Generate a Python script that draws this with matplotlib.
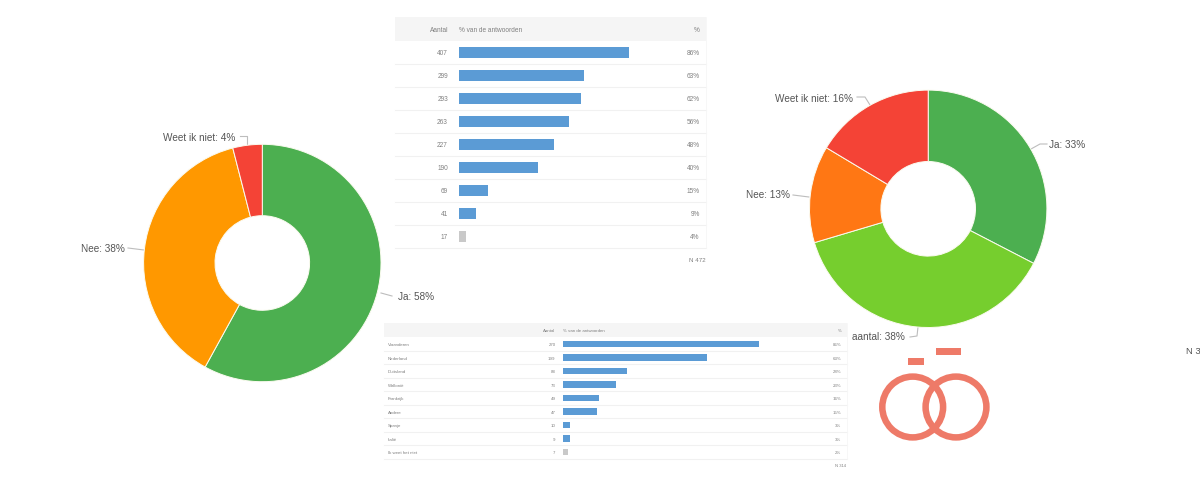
import matplotlib
matplotlib.use("Agg")
import matplotlib.pyplot as plt
from matplotlib.patches import Circle, Rectangle

plt.rcParams['font.family'] = ['Liberation Sans', 'DejaVu Sans']

W, H = 1200, 500

# --- data ---
left_labels = ["Ja", "Nee", "Weet ik niet"]
left_values = [58, 38, 4]
left_shown = [58, 38, 4]
left_colors = ["#4CAF50", "#FF9800", "#F44336"]

right_labels = ["Ja", "aantal", "Nee", "Weet ik niet"]
right_values = [32.6, 37.8, 13.2, 16.4]
right_shown = [33, 38, 13, 16]
right_colors = ["#4CAF50", "#76CE2E", "#FF7714", "#F44336"]

t1_counts = [407, 299, 293, 263, 227, 190, 69, 41, 17]
t1_pcts = [86, 63, 62, 56, 48, 40, 15, 9, 4]

t2_names = ["Vlaanderen", "Nederland", "Duitsland", "Wallonië", "Frankrijk",
            "Andere", "Spanje", "Italië", "Ik weet het niet"]
t2_counts = [270, 199, 88, 73, 49, 47, 10, 9, 7]
t2_pcts = [86, 63, 28, 23, 16, 15, 3, 3, 2]

BLUE = "#5B9BD5"
GREY = "#C9C9C9"
HEAD = "#F5F5F5"
LINE = "#F1F1F1"
TXT = "#808080"
DARK = "#555555"
LEAD = "#BDBDBD"
RING = "#EE7A68"

fig = plt.figure(figsize=(W / 100, H / 100), dpi=100, facecolor="white")


def axes_px(x0, y0, x1, y1, **kw):
    return fig.add_axes([x0 / W, 1 - y1 / H, (x1 - x0) / W, (y1 - y0) / H], **kw)


ov = axes_px(0, 0, W, H)
ov.set_xlim(0, W)
ov.set_ylim(H, 0)
ov.axis("off")


def donut(cx, cy, values, colors):
    R, r = 118.7, 47.3
    ax = axes_px(cx - R - 1, cy - R - 1, cx + R + 1, cy + R + 1)
    ax.pie(values, colors=colors, startangle=90, counterclock=False, radius=1,
           wedgeprops=dict(width=1 - r / R, edgecolor="#FBFBF0", linewidth=0.7))
    ax.set_xlim(-(R + 1) / R, (R + 1) / R)
    ax.set_ylim(-(R + 1) / R, (R + 1) / R)
    ax.set_aspect("equal")
    ax.axis("off")


donut(262.3, 263, left_values, left_colors)
donut(928.2, 208.8, right_values, right_colors)


def callout(label, value, tx, ty, ha, pts):
    ov.text(tx, ty, f"{label}: {value}%", ha=ha, va="center", fontsize=7.2, color=DARK)
    ov.plot([p[0] for p in pts], [p[1] for p in pts], color=LEAD, lw=0.8)


callout(left_labels[0], left_shown[0], 398, 297, "left", [(381, 293), (392, 296)])
callout(left_labels[1], left_shown[1], 124.5, 249.5, "right", [(128, 248), (144, 250)])
callout(left_labels[2], left_shown[2], 235.5, 138, "right", [(240, 136), (247, 136), (247, 144)])
callout(right_labels[0], right_shown[0], 1049, 144.5, "left", [(1031, 149), (1040, 144), (1047, 144)])
callout(right_labels[1], right_shown[1], 905, 337.5, "right", [(910, 337), (917, 336), (918, 327)])
callout(right_labels[2], right_shown[2], 790, 195.5, "right", [(793, 195), (809, 197)])
callout(right_labels[3], right_shown[3], 853, 98.5, "right", [(857, 97), (865, 97), (870, 105)])


def table(x0, x1, head_top, head_bot, row_h, bar_x, px_per, counts, pcts,
          count_r, pct_r, fs, bar_h, head_dy, names=None, name_x=None):
    n = len(counts)
    bottom = head_bot + n * row_h
    mid = (head_top + head_bot) / 2 + head_dy
    ov.add_patch(Rectangle((x0, head_top), x1 - x0, head_bot - head_top, fc=HEAD, ec="none"))
    for tx, s, ha in ((count_r, "Aantal", "right"), (bar_x, "% van de antwoorden", "left"), (pct_r, "%", "right")):
        ov.text(tx, mid, s, ha=ha, va="center", fontsize=fs, color=TXT)
    for i in range(1, n + 1):
        y = head_bot + i * row_h
        ov.plot([x0, x1], [y, y], color=LINE, lw=0.8)
    ov.plot([x1, x1], [head_top, bottom], color="#F6F6F6", lw=0.6)

    ax = axes_px(bar_x, head_bot, x1, bottom)
    ax.patch.set_alpha(0)
    colors = [BLUE] * (n - 1) + [GREY]
    ax.barh(range(n), counts, height=bar_h, color=colors)
    ax.set_xlim(0, (x1 - bar_x) / px_per)
    ax.set_ylim(n - 0.5, -0.5)
    ax.axis("off")
    for i in range(n):
        ax.annotate(str(counts[i]), (0, i), xytext=(count_r - bar_x, -1), textcoords="offset pixels",
                    ha="right", va="center", fontsize=fs, color=TXT, annotation_clip=False)
        ax.annotate(f"{pcts[i]}%", (0, i), xytext=(pct_r - bar_x, -1), textcoords="offset pixels",
                    ha="right", va="center", fontsize=fs, color=TXT, annotation_clip=False)
        if names:
            ax.annotate(names[i], (0, i), xytext=(name_x - bar_x, -1), textcoords="offset pixels",
                        ha="left", va="center", fontsize=fs, color=TXT, annotation_clip=False)


table(394.5, 705.5, 17.3, 40.7, 23, 459, 170 / 407, t1_counts, t1_pcts, 448, 699.7, 4.7, 0.48, 1.5)
ov.text(706, 260, "N 472", ha="right", va="center", fontsize=4.4, color=TXT)

table(384, 846.5, 323.3, 337.3, 13.5, 563, 196 / 270, t2_counts, t2_pcts, 555.5, 841.5, 3.2, 0.5, 0.5,
      names=t2_names, name_x=388)
ov.text(846, 466, "N 314", ha="right", va="center", fontsize=3.0, color=TXT)

ov.text(1186, 351, "N 3", ha="left", va="center", fontsize=6.8, color=DARK)

# decorative rings
for cx in (912.7, 956):
    ov.add_patch(Circle((cx, 407), 30.4, fc="none", ec=RING, lw=4.7))
ov.add_patch(Rectangle((908, 358), 16.3, 6.8, fc=RING, ec="none"))
ov.add_patch(Rectangle((935.7, 348.3), 25.3, 7, fc=RING, ec="none"))

fig.savefig("out.png", dpi=100)
